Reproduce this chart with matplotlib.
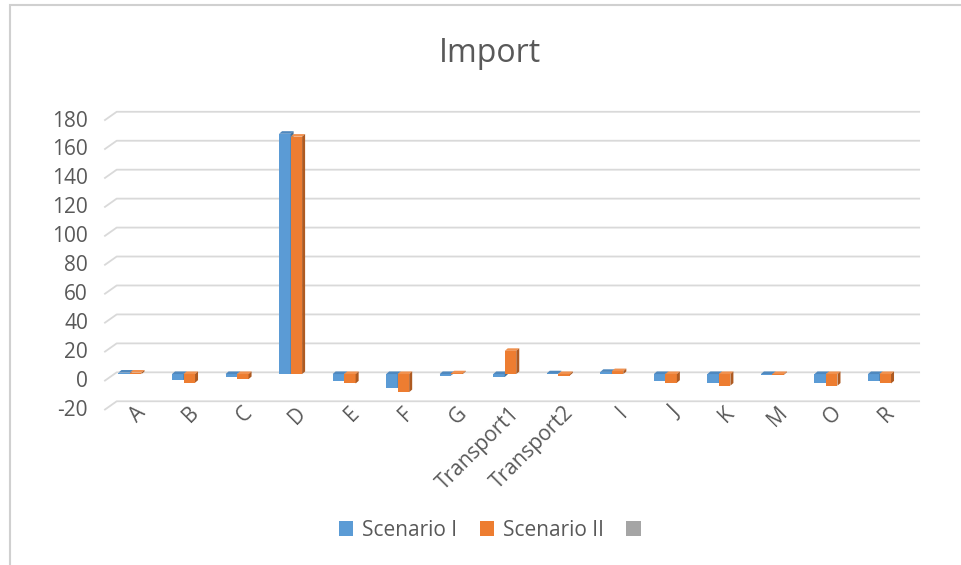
import numpy as np
import matplotlib
matplotlib.use("Agg")
import matplotlib.pyplot as plt
from matplotlib.patches import Polygon, Patch, Rectangle
from matplotlib.transforms import ScaledTranslation

plt.rcParams['font.family'] = ['Open Sans', 'DejaVu Sans']

categories = ['A', 'B', 'C', 'D', 'E', 'F', 'G', 'Transport1', 'Transport2',
              'I', 'J', 'K', 'M', 'O', 'R']
scenario_1 = [1, -4, -2, 166, -4.5, -9.5, -1, -2, 0.5, 1.5, -5, -6, -0.5, -6, -5]
scenario_2 = [1, -6, -3.5, 164, -6.5, -12.5, 0.5, 16, -1, 2, -6, -8, -0.5, -8, -6.5]
y_ticks = [-20, 0, 20, 40, 60, 80, 100, 120, 140, 160, 180]
series_names = ['Scenario I', 'Scenario II', '']

text_grey = '#595959'
grid_grey = '#D9D9D9'
# front, top, side colours of each series
palette = [('#5B9BD5', '#4F88BE', '#41719C'),
           ('#ED7D31', '#F0914F', '#AE5A21')]

fig = plt.figure(figsize=(9.61, 5.65), dpi=100)
ax = fig.add_axes([0.1074, 0.2867, 0.8468, 0.5274])
ax.set_xlim(-0.5, 14.7)
ax.set_ylim(-19.66, 185.86)

# gridlines sit on the back wall, with a short slanted floor piece on the left
for v in y_ticks:
    ax.plot([-0.467, -0.248, 14.74], [v - 4.5, v + 1.2, v + 1.2],
            color=grid_grey, lw=1.3, clip_on=False, zorder=1)

# pseudo-3D columns: front face, top face, side face
w = 0.215
dx, dy = 0.056, 1.8
x = np.arange(len(categories))
for s, vals in enumerate([scenario_1, scenario_2]):
    front, top_c, side_c = palette[s]
    for xi, v in zip(x, vals):
        x0 = xi - w + s * w
        x1 = x0 + w
        lo, hi = min(0, v), max(0, v)
        ax.add_patch(Rectangle((x0, lo), w, hi - lo, facecolor=front,
                               edgecolor='none', zorder=3 + s))
        ax.add_patch(Polygon([(x0, hi), (x1, hi), (x1 + dx, hi + dy), (x0 + dx, hi + dy)],
                             closed=True, facecolor=top_c, edgecolor='none', zorder=3 + s))
        ax.add_patch(Polygon([(x1, lo), (x1, hi), (x1 + dx, hi + dy), (x1 + dx, lo + dy)],
                             closed=True, facecolor=side_c, edgecolor='none', zorder=3 + s))

for sp in ax.spines.values():
    sp.set_visible(False)

ax.set_yticks(y_ticks)
ax.set_yticklabels([str(t) for t in y_ticks])
ax.tick_params(axis='y', length=0, pad=11, labelsize=15, labelcolor=text_grey)
for lab in ax.get_yticklabels():
    lab.set_transform(lab.get_transform() + ScaledTranslation(0, -0.05, fig.dpi_scale_trans))

ax.set_xticks(x)
ax.set_xticklabels(categories, rotation=45, ha='right', va='center',
                   rotation_mode='anchor')
ax.tick_params(axis='x', length=0, pad=0, labelsize=15, labelcolor=text_grey)
for lab in ax.get_xticklabels():
    lab.set_transform(lab.get_transform() + ScaledTranslation(0.12, -0.07, fig.dpi_scale_trans))

fig.text(490 / 961, 1 - 54 / 565, 'Import', ha='center', va='center',
         fontsize=23, color=text_grey)

handles = [Patch(facecolor=palette[0][0]), Patch(facecolor=palette[1][0]),
           Patch(facecolor='#A5A5A5')]
fig.legend(handles, series_names, loc='center', ncol=3,
           bbox_to_anchor=(494 / 961, 1 - 530 / 565), frameon=False,
           fontsize=15, labelcolor=text_grey, handlelength=0.7,
           handleheight=0.7, handletextpad=0.4, columnspacing=1.1)

# chart border
fig.add_artist(Rectangle((10 / 961, -0.1), 1.2, 1 - 5 / 565 + 0.1,
                         transform=fig.transFigure, fill=False,
                         edgecolor='#D0D0D0', lw=1.5))

fig.savefig('out.png', dpi=100)
